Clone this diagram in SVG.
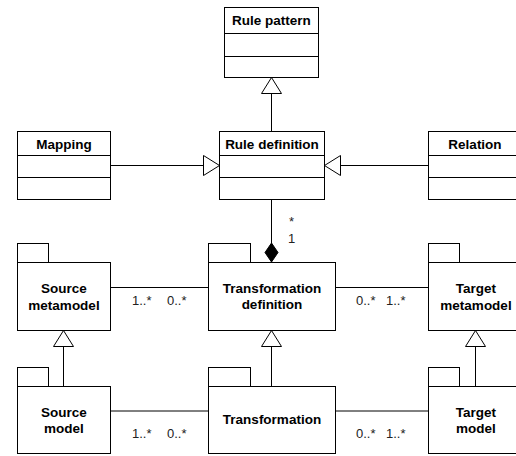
<svg xmlns="http://www.w3.org/2000/svg" width="516" height="456" viewBox="0 0 516 456">
<style>
.box{fill:#fff;stroke:#000;stroke-width:1}
.ln{fill:none;stroke:#000;stroke-width:1}
.tri{fill:#fff;stroke:#000;stroke-width:1}
.dia{fill:#000;stroke:#000;stroke-width:1}
.t{font-family:"Liberation Sans",Arial,sans-serif;font-size:13.5px;font-weight:bold;text-anchor:middle;fill:#000}
.m{font-family:"Liberation Sans",Arial,sans-serif;font-size:13px;fill:#222}
</style>
<rect width="516" height="456" fill="#fff"/>
<g id="connectors">
  <line class="ln" x1="271.5" y1="93.5" x2="271.5" y2="131.5"/>
  <polygon class="tri" points="271.5,77.5 281.5,93.5 261.5,93.5"/>
  <line class="ln" x1="110.5" y1="165.5" x2="203.5" y2="165.5"/>
  <polygon class="tri" points="219.5,165.5 203.5,155.5 203.5,175.5"/>
  <line class="ln" x1="340.5" y1="165.5" x2="428.5" y2="165.5"/>
  <polygon class="tri" points="324.5,165.5 340.5,155.5 340.5,175.5"/>
  <line class="ln" x1="271.5" y1="199.5" x2="271.5" y2="243"/>
  <polygon class="dia" points="271.5,243 278,252.5 271.5,262 265,252.5"/>
  <text class="m" x="289" y="226">*</text>
  <text class="m" x="288" y="243">1</text>
  <line class="ln" x1="110.5" y1="287.5" x2="208.5" y2="287.5"/>
  <text class="m" x="132" y="305">1..*</text>
  <text class="m" x="167" y="305">0..*</text>
  <line class="ln" x1="335.5" y1="287.5" x2="428.5" y2="287.5"/>
  <text class="m" x="356" y="305">0..*</text>
  <text class="m" x="386" y="305">1..*</text>
  <line class="ln" x1="110.5" y1="411" x2="208.5" y2="411"/>
  <text class="m" x="132" y="438">1..*</text>
  <text class="m" x="167" y="438">0..*</text>
  <line class="ln" x1="335.5" y1="411" x2="428.5" y2="411"/>
  <text class="m" x="356" y="438">0..*</text>
  <text class="m" x="386" y="438">1..*</text>
  <line class="ln" x1="63.5" y1="346.5" x2="63.5" y2="386.5"/>
  <polygon class="tri" points="63.5,330.5 73.5,346.5 53.5,346.5"/>
  <line class="ln" x1="271.5" y1="346.5" x2="271.5" y2="386.5"/>
  <polygon class="tri" points="271.5,330.5 281.5,346.5 261.5,346.5"/>
  <line class="ln" x1="475.5" y1="346.5" x2="475.5" y2="386.5"/>
  <polygon class="tri" points="475.5,330.5 485.5,346.5 465.5,346.5"/>
</g>
<g id="rule-pattern">
  <rect class="box" x="224.5" y="7.5" width="94" height="70"/>
  <line class="ln" x1="224.5" y1="33.5" x2="318.5" y2="33.5"/>
  <line class="ln" x1="224.5" y1="56.5" x2="318.5" y2="56.5"/>
  <text class="t" x="271.5" y="25">Rule pattern</text>
</g>
<g id="mapping">
  <rect class="box" x="17.5" y="131.5" width="93" height="68"/>
  <line class="ln" x1="17.5" y1="155.5" x2="110.5" y2="155.5"/>
  <line class="ln" x1="17.5" y1="177.5" x2="110.5" y2="177.5"/>
  <text class="t" x="64" y="149">Mapping</text>
</g>
<g id="rule-definition">
  <rect class="box" x="219.5" y="131.5" width="105" height="68"/>
  <line class="ln" x1="219.5" y1="155.5" x2="324.5" y2="155.5"/>
  <line class="ln" x1="219.5" y1="177.5" x2="324.5" y2="177.5"/>
  <text class="t" x="272" y="149">Rule definition</text>
</g>
<g id="relation">
  <rect class="box" x="428.5" y="131.5" width="93" height="68"/>
  <line class="ln" x1="428.5" y1="155.5" x2="521.5" y2="155.5"/>
  <line class="ln" x1="428.5" y1="177.5" x2="521.5" y2="177.5"/>
  <text class="t" x="475" y="149">Relation</text>
</g>
<g id="source-metamodel">
  <rect class="box" x="17.5" y="243.5" width="31" height="19"/>
  <rect class="box" x="17.5" y="262.5" width="93" height="68"/>
  <text class="t" x="64" y="293">Source</text>
  <text class="t" x="64" y="310">metamodel</text>
</g>
<g id="transformation-definition">
  <rect class="box" x="208.5" y="243.5" width="42" height="19"/>
  <rect class="box" x="208.5" y="262.5" width="127" height="68"/>
  <text class="t" x="272" y="293">Transformation</text>
  <text class="t" x="272" y="309">definition</text>
</g>
<g id="target-metamodel">
  <rect class="box" x="428.5" y="243.5" width="31" height="19"/>
  <rect class="box" x="428.5" y="262.5" width="93" height="68"/>
  <text class="t" x="476" y="293">Target</text>
  <text class="t" x="476" y="310">metamodel</text>
</g>
<g id="source-model">
  <rect class="box" x="17.5" y="367.5" width="31" height="19"/>
  <rect class="box" x="17.5" y="386.5" width="93" height="67"/>
  <text class="t" x="64" y="417">Source</text>
  <text class="t" x="64" y="433">model</text>
</g>
<g id="transformation">
  <rect class="box" x="208.5" y="367.5" width="42" height="19"/>
  <rect class="box" x="208.5" y="386.5" width="127" height="67"/>
  <text class="t" x="272" y="424">Transformation</text>
</g>
<g id="target-model">
  <rect class="box" x="428.5" y="367.5" width="31" height="19"/>
  <rect class="box" x="428.5" y="386.5" width="93" height="67"/>
  <text class="t" x="476" y="417">Target</text>
  <text class="t" x="476" y="433">model</text>
</g>
</svg>
